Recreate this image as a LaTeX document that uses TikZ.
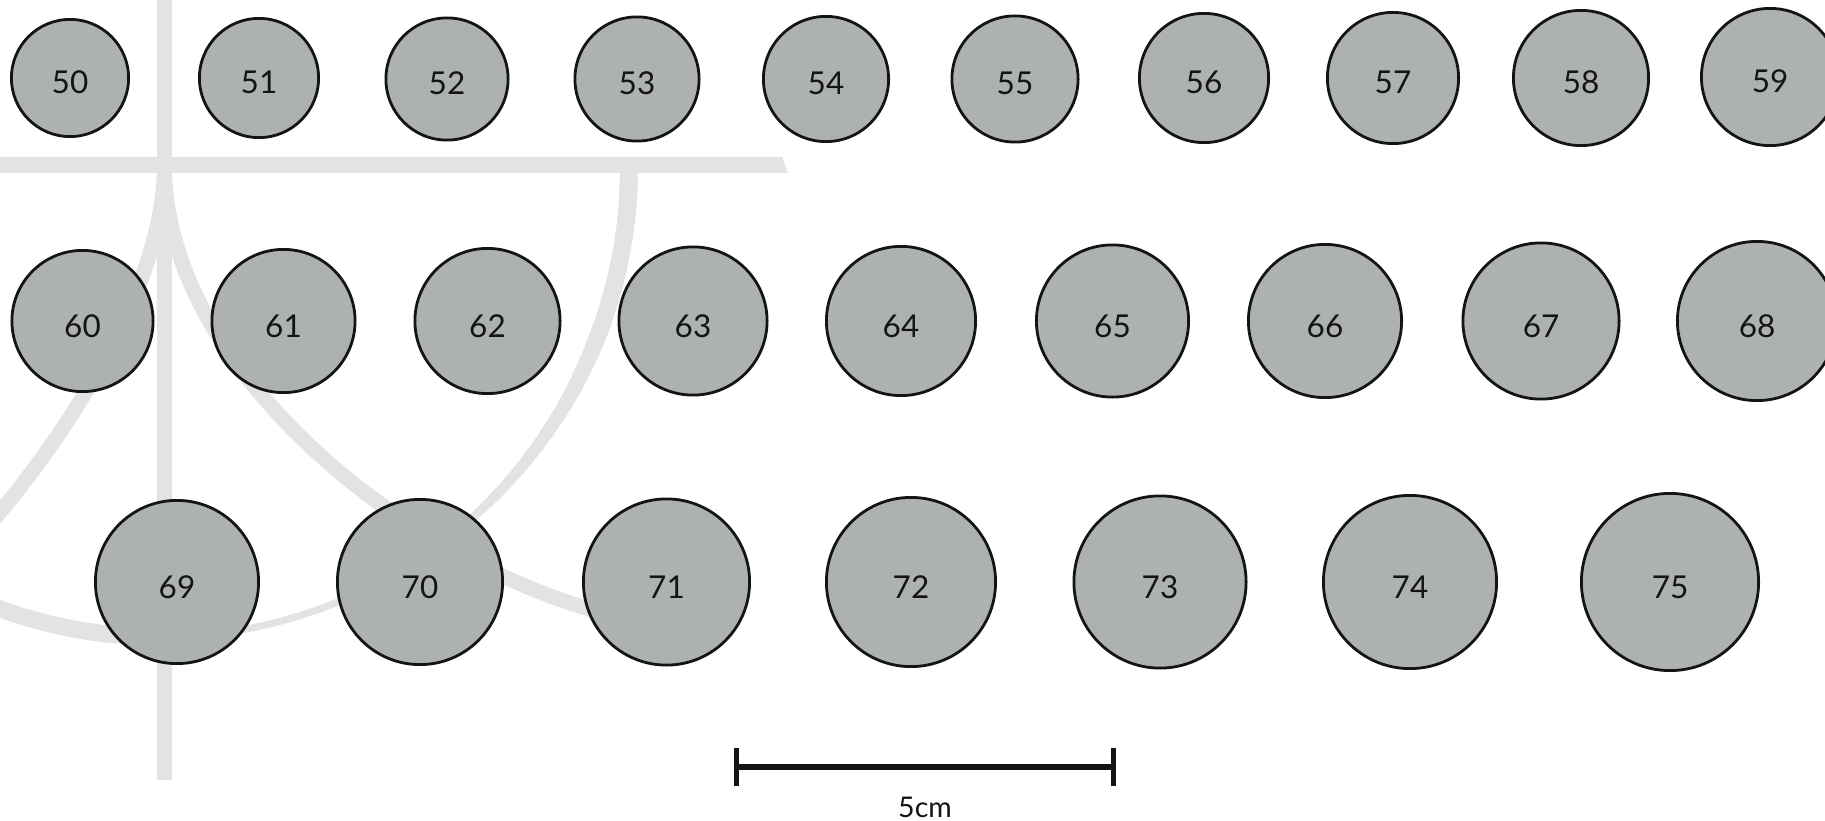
\documentclass[tikz,border=0pt]{standalone}
\usepackage{fontspec}
\setmainfont{Lato}
\usetikzlibrary{calc}
\definecolor{bggray}{RGB}{227,227,227}
\definecolor{discfill}{RGB}{174,177,178}
\definecolor{ink}{RGB}{20,20,20}
\tikzset{
  bgline/.style={draw=bggray, line width=15pt},
  disc/.style={circle, draw=ink, line width=2.8pt, fill=discfill, inner sep=0pt,
    text=ink, text height=32pt, text depth=0pt,
    font=\fontsize{31.5pt}{36pt}\selectfont},
  scalebar/.style={draw=ink, line width=5.5pt},
  scaletick/.style={draw=ink, line width=5pt},
}
\begin{document}
\begin{tikzpicture}[x=1pt, y=-1pt]
\useasboundingbox (0,0) rectangle (1825,821);
\clip (0,0) rectangle (1825,821);
% background light-grey structure
\fill[bggray] (-5,157) -- (782,157) -- (788,173) -- (-5,173) -- cycle;
\draw[bgline] (164.5,-5) -- (164.5,780);
\coordinate (J) at (164.5,165);
\draw[bgline] (J) .. controls (164.5,290) and (60,442) .. (-5,518);
\draw[bgline] (J) .. controls (164.5,370) and (407,560) .. (600,612);
% large tapered arc, centre (160,168), radius 469
\foreach \a in {0,2,...,124}{
  \pgfmathsetmacro{\w}{(\a<20)*(18-0.05*\a) + (\a>=20)*(\a<48)*(17-9*(\a-20)/28) + (\a>=48)*(\a<84)*7 + (\a>=84)*17}
  \draw[draw=bggray, line width=\w pt] plot[domain=\a:\a+2.6, samples=4, variable=\t] ({160+469*cos(\t)},{168+469*sin(\t)});
}
% discs
\foreach \n/\x/\y/\d in {
  50/70/78/117.2, 51/259/78/119.2, 52/447/79/122.2, 53/637/79/124.2, 54/826/79/125.2,
  55/1015/79/126.2, 56/1204/78/129.2, 57/1393/78/131.2, 58/1581/78/135.2, 59/1770/77/137.2,
  60/82.5/321/141.2, 61/283.5/321/143.2, 62/487.5/321/145.2, 63/693/321/148.2, 64/901/321/149.2,
  65/1112.5/321/152.2, 66/1325/321/153.2, 67/1541/321/156.2, 68/1757/321/159.2,
  69/177/582/163.2, 70/420/582/165.2, 71/666.5/582/166.2, 72/911/582/169.2,
  73/1160/582/172.2, 74/1410/582/173.2, 75/1670/582/177.2}{
  \node[disc, minimum size=\d pt] (n\n) at (\x,\y) {\n};
}
% scale bar
\coordinate (sbL) at (736.5,767);
\coordinate (sbR) at (1113.5,767);
\draw[scalebar] (sbL) -- (sbR);
\draw[scaletick] ([yshift=19pt]sbL) -- ([yshift=-19pt]sbL);
\draw[scaletick] ([yshift=19pt]sbR) -- ([yshift=-19pt]sbR);
\node[anchor=base, text=ink, inner sep=0pt, font=\fontsize{28.5pt}{32pt}\selectfont] (sblabel) at (925,817) {5cm};
\end{tikzpicture}
\end{document}
